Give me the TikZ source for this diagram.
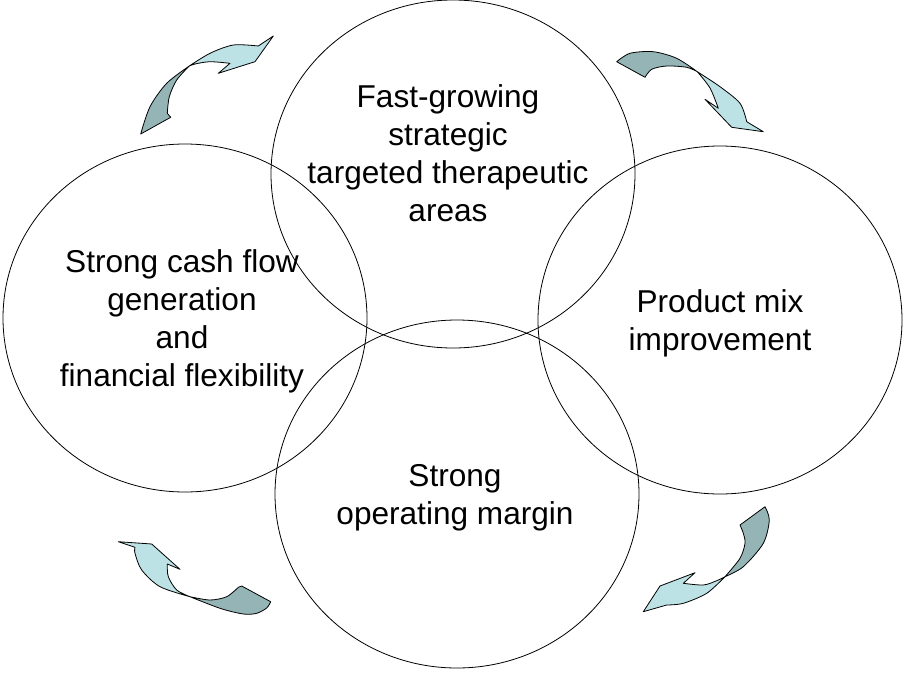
\documentclass[tikz,border=0pt]{standalone}
\usepackage{fontspec}
\setmainfont{Liberation Sans}
\usetikzlibrary{shapes.geometric}
\definecolor{arrowdark}{RGB}{149,180,182}
\definecolor{arrowlight}{RGB}{189,226,230}
\begin{document}
\begin{tikzpicture}[x=1pt, y=-1pt,
	bubble/.style={draw, ellipse, line width=0.8pt, minimum width=364pt, minimum height=348pt, inner sep=0pt},
	lbl/.style={align=center, font=\fontsize{31.6}{38}\selectfont},
	backpart/.style={fill=arrowdark, draw=black, line width=0.8pt, line join=round},
	frontpart/.style={fill=arrowlight, draw=black, line width=0.8pt, line join=round}]
	\useasboundingbox (0,0) rectangle (905,675);
	
	% Vẽ các hình tròn
	\node[bubble] (top) at (453,174) {};
	\node[bubble] (left) at (185,318) {};
	\node[bubble] (right) at (720,320) {};
	\node[bubble] (bottom) at (457,494) {};
	
	% Gán nhãn
	\node[lbl] (toptext) at (448,153) {Fast-growing\\strategic\\targeted therapeutic\\areas};
	\node[lbl] (lefttext) at (182,321.5) {Strong cash flow\\generation\\and\\financial flexibility};
	\node[lbl] (righttext) at (720,323) {Product mix\\improvement};
	\node[lbl] (bottomtext) at (455,498) {Strong\\operating margin};
	
	% Mũi tên trên trái
	\filldraw[backpart] plot[smooth] coordinates {(140.7,134) (150,106.7) (166.7,83.3) (189.3,66)}
		-- plot[smooth] coordinates {(189.3,66) (176.7,80) (169.3,96.7) (167.3,113.3)} -- (170.7,117.3) -- cycle;
	\filldraw[frontpart] plot[smooth] coordinates {(189.3,66) (210,53.3) (233.3,45) (258.3,46)} -- (273.3,36) -- (255,61.7) -- (218.3,73.3)
		-- plot[smooth] coordinates {(230,63.3) (210,61.7) (195,64) (189.3,66)} -- cycle;
	
	% Mũi tên trên phải
	\filldraw[backpart] plot[smooth] coordinates {(616.7,61.7) (630,53.3) (653.3,51.7) (676.7,58.3) (697.3,71.7)}
		-- plot[smooth] coordinates {(697.3,71.7) (686.7,67.3) (666.7,66) (651.7,69.3) (645,77.3)} -- cycle;
	\filldraw[frontpart] plot[smooth] coordinates {(697.3,71.7) (720,86.7) (740,103.3) (746.7,121.7)} -- (763.3,131.7) -- (731.7,127.3) -- (705,99.3)
		-- plot[smooth] coordinates {(718.3,108.3) (710,88) (697.3,71.7)} -- cycle;
	
	% Mũi tên dưới trái
	\filldraw[frontpart] plot[smooth] coordinates {(135,547.3) (135,553.3) (141.7,570) (160,586.7) (190,596.7)}
		-- plot[smooth] coordinates {(190,596.7) (176.7,590) (168.3,576.7) (167.3,564)} -- (180,569.3) -- (151.7,544) -- (118.3,541.7) -- cycle;
	\filldraw[backpart] plot[smooth] coordinates {(190,596.7) (210,600) (226.7,596.7) (238.3,587.3)} -- (241.7,586) -- (270.7,601.7)
		-- plot[smooth] coordinates {(270.7,601.7) (266.7,608) (256.7,613.3) (243.3,614) (220,608.3) (190,596.7)} -- cycle;
	
	% Mũi tên dưới phải
	\filldraw[backpart] plot[smooth] coordinates {(765,506.7) (769.3,520) (763.3,543.3) (743.3,566.7) (725,576.7)}
		-- plot[smooth] coordinates {(725,576.7) (740,558.3) (745,543.3) (743.3,533.3) (740,525)} -- cycle;
	\filldraw[frontpart] plot[smooth] coordinates {(725,576.7) (706.7,593.3) (683.3,603.3) (666.7,605)} -- (643.3,611.7) -- (660,586) -- (695,572.7)
		-- plot[smooth] coordinates {(683.3,583.3) (703.3,585) (716.7,580.7) (725,576.7)} -- cycle;
\end{tikzpicture}
\end{document}
